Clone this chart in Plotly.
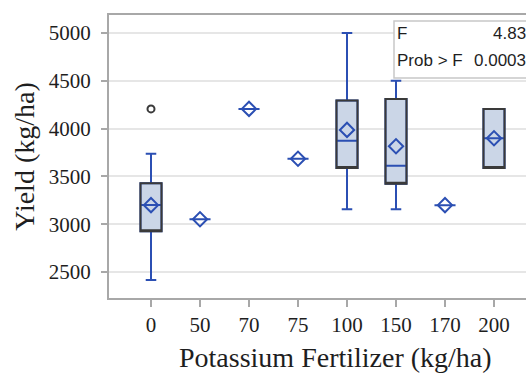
import plotly.graph_objects as go

categories = ['0', '50', '70', '75', '100', '150', '170', '200']
q1 = [2927, 3052, 4206, 3685, 3587, 3424, 3199, 3587]
median = [3200, 3052, 4206, 3685, 3874, 3612, 3199, 3899]
q3 = [3427, 3052, 4206, 3685, 4293, 4310, 3199, 4206]
lower = [2416, 3052, 4206, 3685, 3157, 3157, 3199, 3587]
upper = [3737, 3052, 4206, 3685, 5000, 4500, 3199, 4206]
means = [3199, 3052, 4206, 3685, 3986, 3815, 3199, 3899]
outlier_x = ['0']
outlier_y = [4206]
y_ticks = [2500, 3000, 3500, 4000, 4500, 5000]
stat_labels = ['F', 'Prob > F']
stat_values = ['4.83', '0.0003']
x_title = 'Potassium Fertilizer (kg/ha)'
y_title = 'Yield (kg/ha)'

BLUE = '#2B4FB3'
FILL = '#CBD6E7'
DARK = '#3A3A3A'
W, H = 526, 374
L, T, B, R = 109, 15, 76, 0
pw, ph = W - L - R, H - T - B

fig = go.Figure()
# whiskers, median and fill (blue)
fig.add_trace(go.Box(
    x=categories, q1=q1, median=median, q3=q3,
    lowerfence=lower, upperfence=upper,
    boxpoints=False, width=0.43, whiskerwidth=0.5,
    line=dict(color=BLUE, width=2), fillcolor=FILL, hoverinfo='skip'))
# dark box outline for groups with a spread
idx = [i for i in range(len(categories)) if q3[i] > q1[i]]
fig.add_trace(go.Box(
    x=[categories[i] for i in idx], q1=[q1[i] for i in idx],
    median=[q1[i] for i in idx], q3=[q3[i] for i in idx],
    lowerfence=[q1[i] for i in idx], upperfence=[q3[i] for i in idx],
    boxpoints=False, width=0.43, whiskerwidth=0,
    line=dict(color=DARK, width=2), fillcolor='rgba(0,0,0,0)', hoverinfo='skip'))
# means
fig.add_trace(go.Scatter(
    x=categories, y=means, mode='markers',
    marker=dict(symbol='diamond-open', size=11, color=BLUE, line=dict(width=2, color=BLUE))))
# outlier
fig.add_trace(go.Scatter(
    x=outlier_x, y=outlier_y, mode='markers',
    marker=dict(symbol='circle-open', size=7, color=DARK, line=dict(width=2, color=DARK))))

def px_x(x):
    return (x - L) / pw

def px_y(y):
    return (H - B - y) / ph

# inset statistics table
fig.add_shape(type='rect', xref='paper', yref='paper',
              x0=px_x(394), x1=px_x(540), y0=px_y(78), y1=px_y(21),
              line=dict(color='#C8C8C8', width=1.5), fillcolor='white', layer='above')
for k, (lab, val) in enumerate(zip(stat_labels, stat_values)):
    yc = px_y(33 + 27 * k)
    fig.add_annotation(xref='paper', yref='paper', x=px_x(395), y=yc, text=lab,
                       showarrow=False, xanchor='left', yanchor='middle',
                       font=dict(family='Liberation Sans', size=17, color='#1E1E1E'))
    fig.add_annotation(xref='paper', yref='paper', x=px_x(528), y=yc, text=val,
                       showarrow=False, xanchor='right', yanchor='middle',
                       font=dict(family='Liberation Sans', size=17, color='#1E1E1E'))

# x axis title (original plot area extends past the cropped right edge)
fig.add_annotation(xref='paper', yref='paper', x=px_x(335), y=px_y(357), text=x_title,
                   showarrow=False, xanchor='center', yanchor='middle',
                   font=dict(family='Liberation Serif', size=28, color='#1E1E1E'))

fig.update_layout(
    width=W, height=H, margin=dict(l=L, r=R, t=T, b=B),
    paper_bgcolor='white', plot_bgcolor='white', showlegend=False,
    boxmode='overlay',
    font=dict(family='Liberation Serif', color='#1E1E1E'),
    xaxis=dict(type='category', categoryorder='array', categoryarray=categories,
               range=[-(151 - L) / 49, (W - 151) / 49],
               showline=True, mirror=True, linecolor='#A8A8A8', linewidth=2,
               ticks='outside', ticklen=7, tickwidth=2, tickcolor='#A8A8A8',
               showgrid=False, tickfont=dict(size=21)),
    yaxis=dict(range=[2228, 5188], tickvals=y_ticks,
               showline=True, linecolor='#A8A8A8', linewidth=2,
               ticks='outside', ticklen=6, tickwidth=2, tickcolor='#A8A8A8',
               showgrid=True, gridcolor='#E6E6E6', gridwidth=1.5, zeroline=False,
               tickfont=dict(size=21), ticklabelstandoff=6,
               title=dict(text=y_title, font=dict(size=28), standoff=6)),
)

fig.write_html('out.html')
